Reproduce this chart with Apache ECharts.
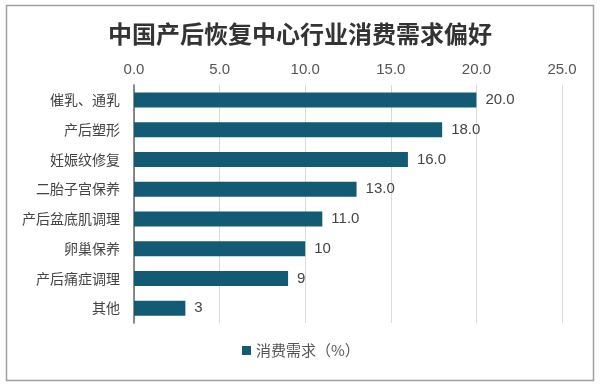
<!DOCTYPE html>
<html><head><meta charset="utf-8">
<script src="https://cdn.jsdelivr.net/npm/echarts@6/dist/echarts.min.js"></script>
<style>html,body{margin:0;padding:0;background:#fff}#c{width:600px;height:389px}</style>
</head><body><div id="c"></div>
<script>
const categories = ['催乳、通乳','产后塑形','妊娠纹修复','二胎子宫保养','产后盆底肌调理','卵巢保养','产后痛症调理','其他'];
const values = [20, 18, 16, 13, 11, 10, 9, 3];
const valueLabels = ['20.0','18.0','16.0','13.0','11.0','10','9','3'];
const seriesName = '消费需求（%）';
const titleText = '中国产后恢复中心行业消费需求偏好';

const chart = echarts.init(document.getElementById('c'), null, {renderer:'canvas'});
chart.setOption({
  animation:false,
  backgroundColor:'#fff',
  title:{text:titleText,left:'center',top:17,textStyle:{fontSize:24,fontWeight:'bold',color:'#333',fontFamily:'Noto Sans CJK SC'}},
  graphic:[{type:'rect',shape:{x:6.5,y:5.5,width:587,height:375},style:{fill:'none',stroke:'#a0a0a0',lineWidth:1.5},silent:true}],
  legend:{data:[seriesName],bottom:26,left:237,itemWidth:9,itemHeight:9,icon:'rect',itemGap:6,
    textStyle:{fontSize:15,color:'#555',fontFamily:'Noto Sans CJK SC'}},
  grid:{left:134,right:38,top:85,bottom:66},
  xAxis:{type:'value',position:'top',min:0,max:25,interval:5,
    axisLabel:{formatter:v=>v.toFixed(1),fontSize:15,color:'#555',margin:8,fontFamily:'Liberation Sans'},
    axisLine:{show:false},axisTick:{show:false},
    splitLine:{lineStyle:{color:'#d9d9d9',width:1}}},
  yAxis:{type:'category',data:categories,inverse:true,
    axisLine:{lineStyle:{color:'#666',width:1.5}},axisTick:{show:false},
    axisLabel:{fontSize:14,color:'#444',margin:14,fontFamily:'Noto Sans CJK SC'}},
  series:[{name:seriesName,type:'bar',data:values,barWidth:15,
    itemStyle:{color:'#135a74'},
    label:{show:true,position:'right',distance:9,fontSize:15,color:'#444',fontFamily:'Liberation Sans',
      formatter:p=>valueLabels[p.dataIndex]}}]
});
</script></body></html>
